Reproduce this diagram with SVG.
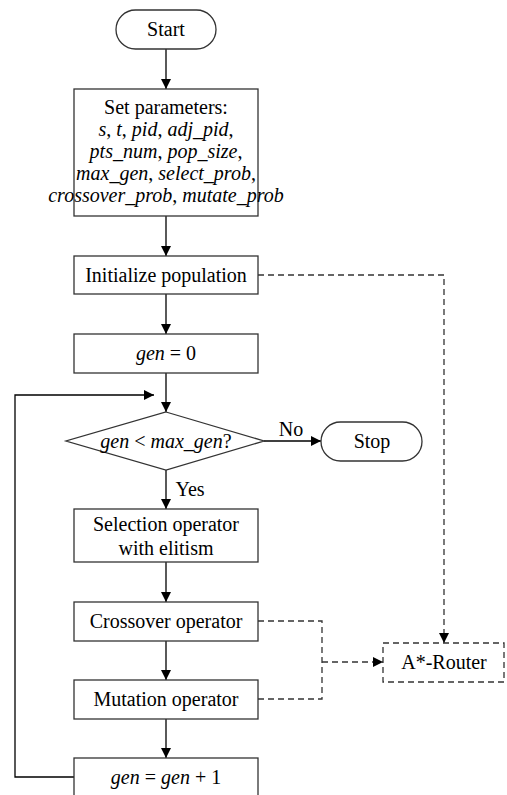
<svg xmlns="http://www.w3.org/2000/svg" width="507" height="795" viewBox="0 0 507 795">
<style>
.n{fill:#fff;stroke:#333;stroke-width:1.3}
.d{fill:#fff;stroke:#333;stroke-width:1.3;stroke-dasharray:6,4}
.t{fill:#000;text-anchor:middle}
.c{fill:none;stroke:#000;stroke-width:1.3}
.cd{fill:none;stroke:#333;stroke-width:1.3;stroke-dasharray:6,4}
</style>
<defs>
<marker id="a" viewBox="0 0 10 10" refX="10" refY="5" markerWidth="10" markerHeight="10" markerUnits="userSpaceOnUse" orient="auto">
<path d="M0,0 L10,5 L0,10 z" fill="#000"/>
</marker>
</defs>
<rect width="507" height="795" fill="#fff"/>
<g id="connectors">
<line class="c" x1="166" y1="49" x2="166" y2="89" marker-end="url(#a)"/>
<line class="c" x1="166" y1="216" x2="166" y2="256" marker-end="url(#a)"/>
<line class="c" x1="166" y1="294" x2="166" y2="334" marker-end="url(#a)"/>
<line class="c" x1="166" y1="373" x2="166" y2="412" marker-end="url(#a)"/>
<line class="c" x1="264" y1="441" x2="321" y2="441" marker-end="url(#a)"/>
<line class="c" x1="166" y1="470" x2="166" y2="509" marker-end="url(#a)"/>
<line class="c" x1="166" y1="562" x2="166" y2="602" marker-end="url(#a)"/>
<line class="c" x1="166" y1="641" x2="166" y2="680" marker-end="url(#a)"/>
<line class="c" x1="166" y1="719" x2="166" y2="758" marker-end="url(#a)"/>
<polyline class="c" points="74,777 15,777 15,395 154,395" marker-end="url(#a)"/>
<polyline class="cd" points="258,275 444,275 444,643" marker-end="url(#a)"/>
<polyline class="cd" points="258,621 322,621 322,699 258,699"/>
<line class="cd" x1="322" y1="662" x2="383" y2="662" marker-end="url(#a)"/>
<text class="t" x="291" y="436" font-family="Liberation Serif" font-size="20">No</text>
<text class="t" x="190" y="496" font-family="Liberation Serif" font-size="20">Yes</text>
</g>
<g id="start">
<rect class="n" x="116" y="10" width="100" height="39" rx="19.5"/>
<text class="t" x="166" y="36" font-family="Liberation Serif" font-size="20">Start</text>
</g>
<g id="params">
<rect class="n" x="74" y="89" width="184" height="127"/>
<text class="t" x="166" y="114" font-family="Liberation Serif" font-size="20">Set parameters:</text>
<text class="t" x="166" y="136" font-family="Liberation Serif" font-size="20" font-style="italic">s<tspan font-style="normal">, </tspan>t<tspan font-style="normal">, </tspan>pid<tspan font-style="normal">, </tspan>adj_pid<tspan font-style="normal">,</tspan></text>
<text class="t" x="166" y="158" font-family="Liberation Serif" font-size="20" font-style="italic">pts_num<tspan font-style="normal">, </tspan>pop_size<tspan font-style="normal">,</tspan></text>
<text class="t" x="166" y="180" font-family="Liberation Serif" font-size="20" font-style="italic">max_gen<tspan font-style="normal">, </tspan>select_prob<tspan font-style="normal">,</tspan></text>
<text class="t" x="166" y="202" font-family="Liberation Serif" font-size="20" font-style="italic">crossover_prob<tspan font-style="normal">, </tspan>mutate_prob</text>
</g>
<g id="init">
<rect class="n" x="74" y="256" width="184" height="38"/>
<text class="t" x="166" y="282" font-family="Liberation Serif" font-size="20">Initialize population</text>
</g>
<g id="gen0">
<rect class="n" x="74" y="334" width="184" height="39"/>
<text class="t" x="166" y="360" font-family="Liberation Serif" font-size="20"><tspan font-style="italic">gen</tspan> = 0</text>
</g>
<g id="decision">
<polygon class="n" points="166,412 264,441 166,470 66,441"/>
<text class="t" x="166" y="448" font-family="Liberation Serif" font-size="20"><tspan font-style="italic">gen</tspan> &lt; <tspan font-style="italic">max_gen</tspan>?</text>
</g>
<g id="stop">
<rect class="n" x="321" y="422" width="101" height="39" rx="19.5"/>
<text class="t" x="372" y="448" font-family="Liberation Serif" font-size="20">Stop</text>
</g>
<g id="selection">
<rect class="n" x="74" y="509" width="184" height="53"/>
<text class="t" x="166" y="531" font-family="Liberation Serif" font-size="20">Selection operator</text>
<text class="t" x="166" y="555" font-family="Liberation Serif" font-size="20">with elitism</text>
</g>
<g id="crossover">
<rect class="n" x="74" y="602" width="184" height="39"/>
<text class="t" x="166" y="628" font-family="Liberation Serif" font-size="20">Crossover operator</text>
</g>
<g id="mutation">
<rect class="n" x="74" y="680" width="184" height="39"/>
<text class="t" x="166" y="706" font-family="Liberation Serif" font-size="20">Mutation operator</text>
</g>
<g id="increment">
<rect class="n" x="74" y="758" width="184" height="45"/>
<text class="t" x="166" y="784" font-family="Liberation Serif" font-size="20"><tspan font-style="italic">gen</tspan> = <tspan font-style="italic">gen</tspan> + 1</text>
</g>
<g id="router">
<rect class="d" x="383" y="643" width="121" height="39"/>
<text class="t" x="444" y="669" font-family="Liberation Serif" font-size="20">A*-Router</text>
</g>
</svg>
